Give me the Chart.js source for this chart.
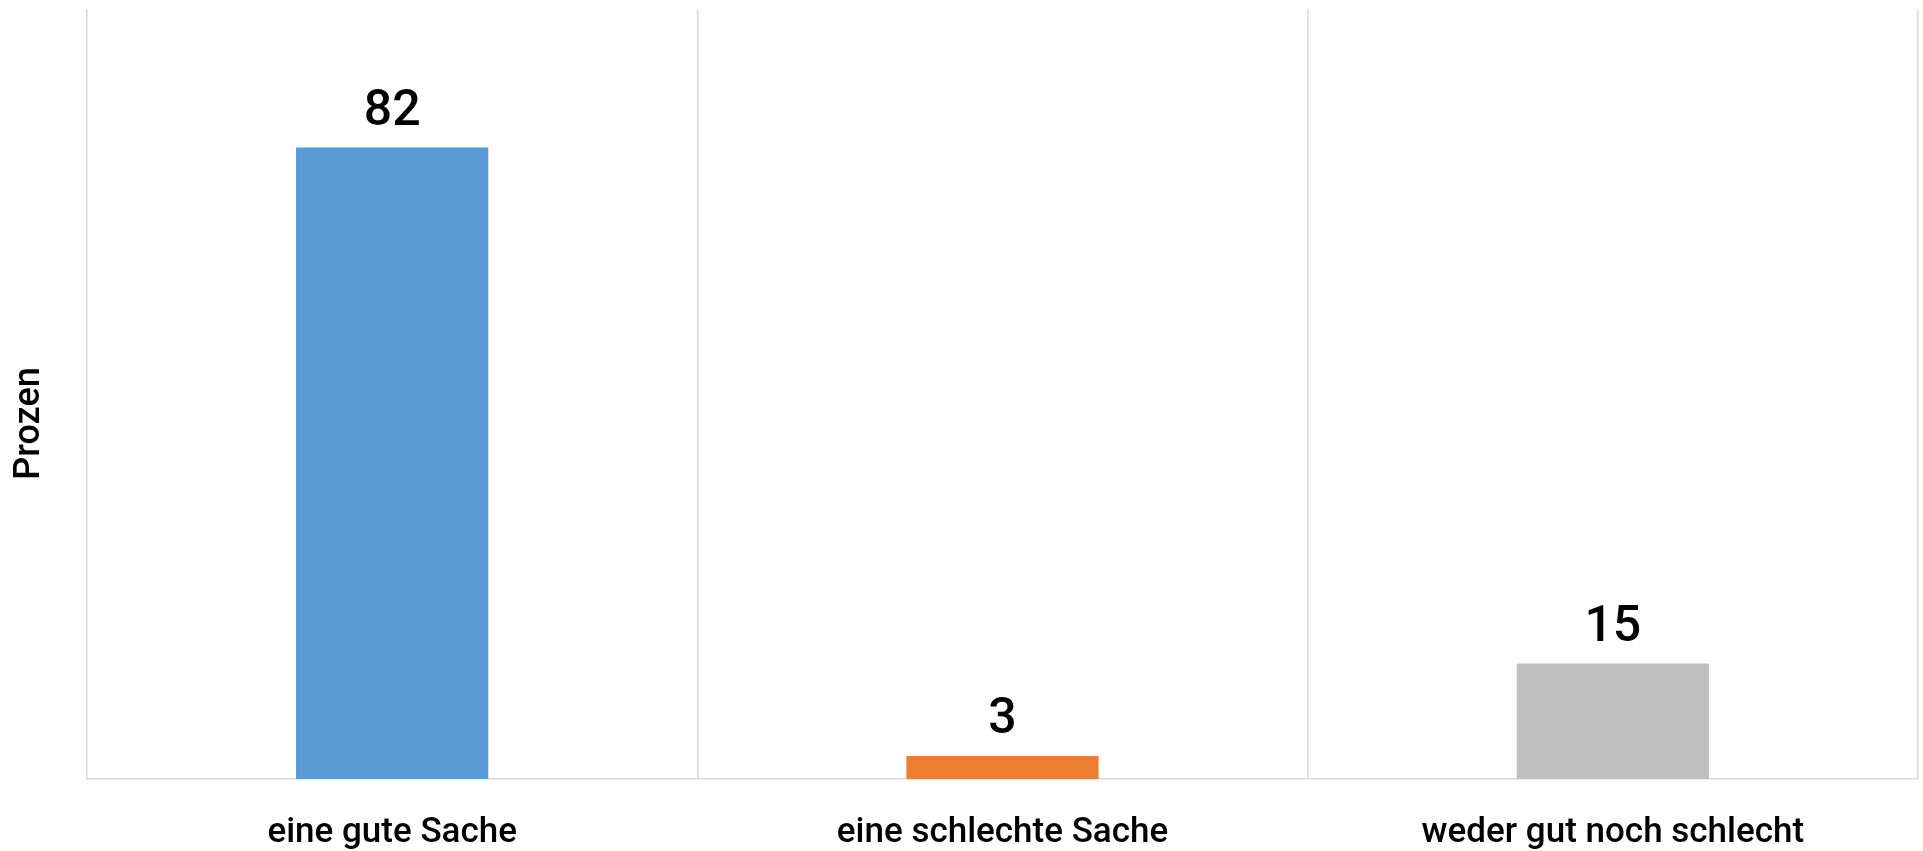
<!DOCTYPE html>
<html>
<head>
<meta charset="utf-8">
<script src="https://cdn.jsdelivr.net/npm/chart.js@4/dist/chart.umd.min.js"></script>
<style>
	html, body { margin: 0; padding: 0; background: #fff; }
	#wrap { width: 1923px; height: 851px; }
</style>
</head>
<body>
<div id="wrap"><canvas id="umfrageChart"></canvas></div>
<script>
const categories = [ 'eine gute Sache', 'eine schlechte Sache', 'weder gut noch schlecht' ];
const values = [ 82, 3, 15 ];
const barColors = [ '#5B9BD5', '#ED7D31', '#BFBFBF' ];
const axisTitle = 'Prozen';

// Zahlen über den Balken
const valueLabels = {
	id: 'valueLabels',
	afterDatasetsDraw( chart ) {
		const { ctx } = chart;
		const meta = chart.getDatasetMeta( 0 );
		ctx.save();
		ctx.font = '500 50px Roboto';
		ctx.fillStyle = '#000';
		ctx.textAlign = 'center';
		ctx.textBaseline = 'alphabetic';
		meta.data.forEach( function( bar, i ) {
			ctx.fillText( String( values[ i ] ), bar.x, bar.y - 23 );
		} );
		ctx.restore();
	},
};

// Achsentitel links, mittig zur Gesamthöhe
const yTitle = {
	id: 'yTitle',
	afterDraw( chart ) {
		const { ctx } = chart;
		ctx.save();
		ctx.translate( 30, chart.height / 2 - 2 );
		ctx.rotate( -Math.PI / 2 );
		ctx.font = '500 36px Roboto';
		ctx.fillStyle = '#000';
		ctx.textAlign = 'center';
		ctx.textBaseline = 'middle';
		ctx.fillText( axisTitle, 0, 0 );
		ctx.restore();
	},
};

document.addEventListener( 'DOMContentLoaded', function() {
	const ctx = document.getElementById( 'umfrageChart' );

	new Chart( ctx, {
		type: 'bar',
		data: {
			labels: categories,
			datasets: [
				{
					data: values,
					backgroundColor: barColors,
					borderWidth: 0,
					barPercentage: 0.315,
					categoryPercentage: 1,
				},
			],
		},
		options: {
			responsive: true,
			maintainAspectRatio: false,
			animation: false,
			devicePixelRatio: 1,
			layout: {
				padding: { top: 9, right: 5, left: 0, bottom: 0 },
			},
			plugins: {
				legend: { display: false },
				tooltip: { enabled: false },
			},
			scales: {
				x: {
					grid: {
						color: '#d9d9d9',
						lineWidth: 1.5,
						drawTicks: false,
						offset: true,
					},
					border: { color: '#d9d9d9', width: 1.5 },
					ticks: {
						color: '#000',
						font: { family: 'Roboto', size: 35, weight: '500' },
						padding: 33,
						maxRotation: 0,
					},
					afterFit( scale ) {
						scale.height = 72;
					},
				},
				y: {
					min: 0,
					max: 100,
					grid: { display: false },
					border: { display: false },
					ticks: { display: false },
					afterFit( scale ) {
						scale.width = 87;
					},
				},
			},
		},
		plugins: [ valueLabels, yTitle ],
	} );
} );
</script>
</body>
</html>
